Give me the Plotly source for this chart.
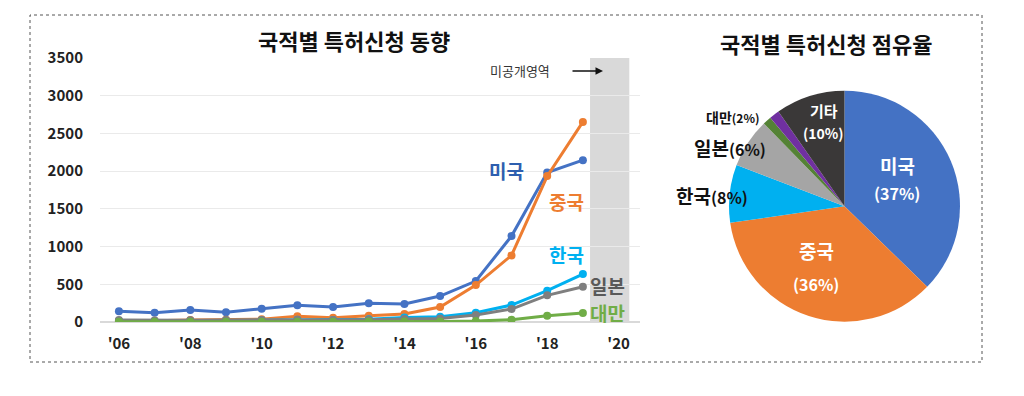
import plotly.graph_objects as go

years = list(range(2006, 2020))
us = [141, 124, 159, 128, 177, 221, 200, 247, 238, 344, 543, 1139, 1982, 2146]
cn = [12, 15, 28, 30, 38, 75, 57, 84, 106, 199, 490, 883, 1934, 2653]
kr = [15, 12, 18, 20, 22, 30, 25, 35, 60, 70, 124, 225, 415, 636]
jp = [25, 20, 22, 25, 25, 30, 28, 30, 40, 45, 93, 172, 353, 468]
tw = [2, 2, 3, 3, 3, 4, 4, 5, 6, 8, 12, 31, 84, 119]

series_names = ["미국", "중국", "한국", "일본", "대만"]
line_colors = ["#4472C4", "#ED7D31", "#00B0F0", "#7F7F7F", "#70AD47"]

tick_vals = [2006, 2008, 2010, 2012, 2014, 2016, 2018, 2020]
tick_text = ["'06", "'08", "'10", "'12", "'14", "'16", "'18", "'20"]
y_ticks = [0, 500, 1000, 1500, 2000, 2500, 3000, 3500]

pie_labels = ["미국", "중국", "한국", "일본", "대만", "기타국", "기타"]
pie_values = [37.3, 35.4, 8.1, 6.9, 1.2, 1.4, 9.7]
pie_pct = ["(37%)", "(36%)", "(8%)", "(6%)", "(2%)", "", "(10%)"]
pie_colors = ["#4472C4", "#ED7D31", "#00B0F0", "#A5A5A5", "#548235", "#7030A0", "#3A3838"]

FONT = "Noto Sans CJK KR"

# page body has an 8px margin: the figure is sized so it fills the 1024x396 window
OFF = 8
W, H = 1024 - OFF, 396 - OFF


def px(x):
    return (x - OFF) / W


def py(y):
    return 1 - (y - OFF) / H


fig = go.Figure()

for name, vals, col in zip(series_names, [us, cn, kr, jp, tw], line_colors):
    fig.add_trace(go.Scatter(
        x=years, y=vals, mode="lines+markers", name=name,
        line=dict(color=col, width=3), marker=dict(color=col, size=8),
        showlegend=False, xaxis="x", yaxis="y"))

fig.add_trace(go.Pie(
    labels=pie_labels, values=pie_values,
    textinfo="none",
    marker=dict(colors=pie_colors, line=dict(width=0)),
    sort=False, direction="clockwise", rotation=0,
    domain=dict(x=[px(729), px(960)], y=[py(321.7), py(90.7)]),
    showlegend=False, hoverinfo="label+percent", automargin=False))

fig.update_layout(
    width=W, height=H,
    margin=dict(l=0, r=0, t=0, b=0, autoexpand=False),
    paper_bgcolor="white", plot_bgcolor="white",
    font=dict(family=FONT, color="#222"),
    showlegend=False,
    xaxis=dict(domain=[px(100), px(640)], range=[2005.47, 2020.6],
               tickvals=tick_vals, ticktext=tick_text, showgrid=False,
               zeroline=False, showline=False, ticks="", automargin=False,
               tickfont=dict(size=15, color="#222", weight="bold"),
               ticklabelstandoff=11),
    yaxis=dict(domain=[py(322), py(58)], range=[0, 3500],
               tickvals=y_ticks, showgrid=True, gridcolor="#EAEAEA",
               gridwidth=1, zeroline=True, zerolinecolor="#D9D9D9",
               showline=False, ticks="", automargin=False,
               tickfont=dict(size=15, color="#222", weight="bold"),
               ticklabelstandoff=16),
)

# unreleased region
fig.add_shape(type="rect", xref="x", yref="y", x0=2019.2, x1=2020.3, y0=0, y1=3500,
              fillcolor="#D9D9D9", line=dict(width=0), layer="below")

# dotted frame
fig.add_shape(type="rect", xref="paper", yref="paper",
              x0=px(30), x1=px(982), y0=py(362), y1=py(15),
              line=dict(color="#555", width=1, dash="dot"))

ann = []


def label(text, x, y, size, color, **kw):
    d = dict(text=text, x=px(x), y=py(y), xref="paper", yref="paper",
             xanchor="center", yanchor="middle", showarrow=False,
             font=dict(size=size, color=color))
    d.update(kw)
    ann.append(d)


label("<b>국적별 특허신청 동향</b>", 354, 40, 22, "#111")
label("<b>국적별 특허신청 점유율</b>", 826, 43, 22, "#111")
label("미공개영역", 520, 71, 13, "#333")
ann.append(dict(text="", x=px(603), y=py(71), ax=-32, ay=0, xref="paper", yref="paper",
                showarrow=True, arrowhead=2, arrowsize=1, arrowwidth=1.5, arrowcolor="#111"))

# series labels
lab_pos = [(506, 170), (566, 201), (566, 254), (607, 285), (607, 312)]
lab_cols = ["#2E5FAF", "#ED7D31", "#00B0F0", "#595959", "#70AD47"]
for name, (lx, ly), col in zip(series_names, lab_pos, lab_cols):
    label(f"<b>{name}</b>", lx, ly, 19, col)

# pie labels (inside)
label(f"<b>{pie_labels[0]}</b>", 897, 165, 19, "white")
label(f"<b>{pie_pct[0]}</b>", 897, 193, 16, "white")
label(f"<b>{pie_labels[1]}</b>", 816, 250, 19, "white")
label(f"<b>{pie_pct[1]}</b>", 816, 284, 16, "white")
label(f"<b>{pie_labels[6]}</b>", 824, 111, 15, "white")
label(f"<b>{pie_pct[6]}</b>", 823, 133, 14, "white")

# pie labels (outside)
label(f"<b>{pie_labels[4]}</b><span style='font-size:12px'><b>{pie_pct[4]}</b></span>",
      732, 117, 14, "#111")
label(f"<b>{pie_labels[3]}</b><span style='font-size:16px'><b>{pie_pct[3]}</b></span>",
      730, 147, 19, "#111")
label(f"<b>{pie_labels[2]}</b><span style='font-size:16px'><b>{pie_pct[2]}</b></span>",
      712, 195, 19, "#111")

fig.update_layout(annotations=ann)
fig.write_html("out.html")
